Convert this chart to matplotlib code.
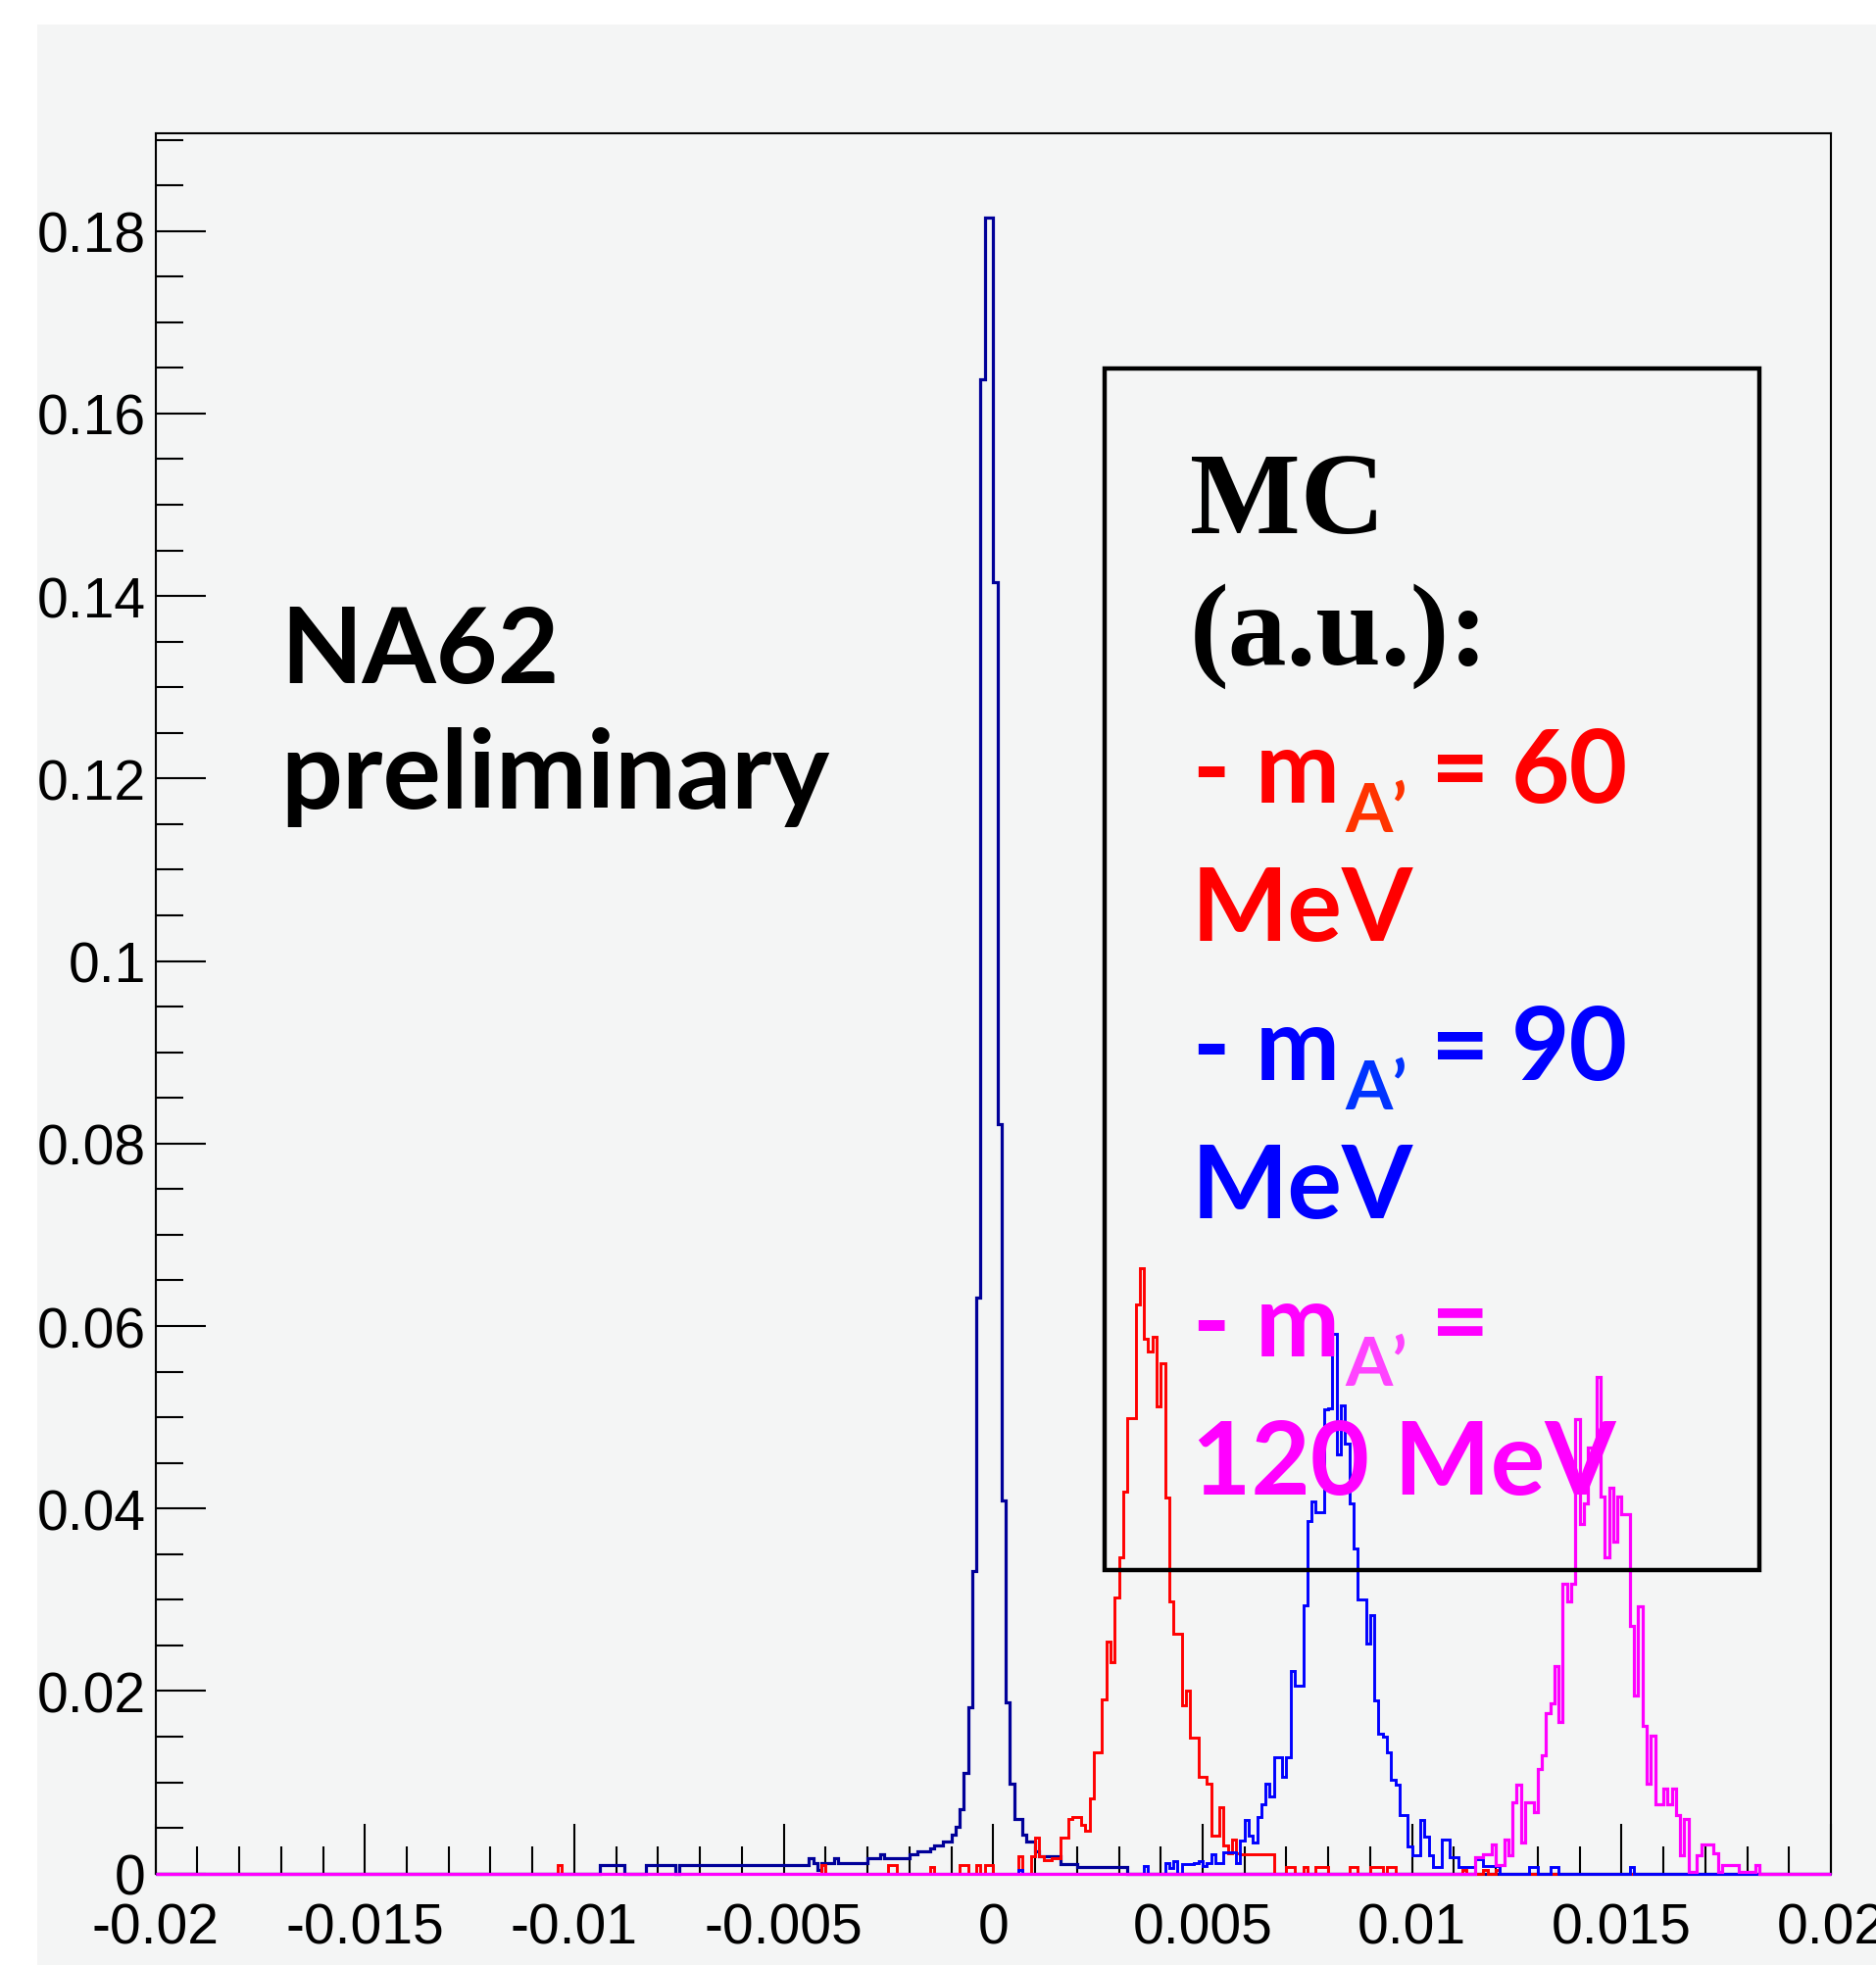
import numpy as np
import matplotlib
matplotlib.use("Agg")
import matplotlib.pyplot as plt
from matplotlib.patches import Rectangle
from matplotlib.ticker import FixedLocator, MultipleLocator

# ---- histogram data (bin width 0.0001) ----
x_min, x_max, bin_w = -0.02, 0.02, 0.0001

# central peak (navy), first bin starts at -0.0094
navy_start = -0.0094
navy_vals = [
    0.0009, 0.0009, 0.0009, 0.0009, 0.0009, 0.0009, 0, 0, 0, 0, 0,
    0.0009, 0.0009, 0.0009, 0.0009, 0.0009, 0.0009, 0.0009, 0,
    0.0009, 0.0009, 0.0009, 0.0009, 0.0009, 0.0009, 0.0009, 0.0009, 0.0009, 0.0009,
    0.0009, 0.0009, 0.0009, 0.0009, 0.0009, 0.0009, 0.0009, 0.0009, 0.0009, 0.0009,
    0.0009, 0.0009, 0.0009, 0.0009, 0.0009, 0.0009, 0.0009, 0.0009, 0.0009, 0.0009, 0.0009,
    0.0017, 0.0012, 0.0004, 0.0012, 0.0012, 0.0012, 0.0017, 0.0012, 0.0012, 0.0012,
    0.0012, 0.0012, 0.0012, 0.0012,
    0.0017, 0.0017, 0.0017, 0.0021, 0.0017, 0.0017, 0.0017, 0.0017, 0.0017, 0.0017,
    0.0021, 0.0021, 0.0024, 0.0024, 0.0024, 0.0028, 0.0031, 0.0031, 0.0035, 0.0035,
    0.0043, 0.0051, 0.0071, 0.0110, 0.0182, 0.0332, 0.0631, 0.1637, 0.1815, 0.1815,
    0.1415, 0.0821, 0.0409, 0.0188, 0.0098, 0.0060, 0.0060, 0.0043, 0.0035, 0.0035,
    0.0024, 0.0019, 0.0019, 0.0019, 0.0019, 0.0019, 0.0010, 0.0010, 0.0010, 0.0010,
    0.0007, 0.0007, 0.0007, 0.0007, 0.0007, 0.0007, 0.0007, 0.0007, 0.0007, 0.0007,
    0.0007, 0.0007,
]

# m_A' = 60 MeV (red)
red_start = 0.0006
red_vals = [
    0.0019, 0, 0, 0.0019, 0.0039, 0.0019, 0.0015, 0.0015, 0.0017, 0.0017,
    0.0039, 0.0039, 0.0060, 0.0062, 0.0062, 0.0053, 0.0047, 0.0082, 0.0133, 0.0133,
    0.0191, 0.0254, 0.0232, 0.0302, 0.0347, 0.0418, 0.0499, 0.0499, 0.0624, 0.0663,
    0.0586, 0.0572, 0.0588, 0.0512, 0.0559, 0.0412, 0.0298, 0.0263, 0.0263, 0.0184,
    0.0200, 0.0149, 0.0149, 0.0106, 0.0106, 0.0099, 0.0042, 0.0042, 0.0073, 0.0031,
    0.0022, 0.0037, 0.0022, 0.0021, 0.0021, 0.0021, 0.0021, 0.0021, 0.0021, 0.0021,
    0.0021,
]
red_iso_x = [-0.0104, -0.0041, -0.0025, -0.0024, -0.0015, -0.0008, -0.0007, -0.0004,
             -0.0002, -0.0001, 0.0070, 0.0071, 0.0074, 0.0077, 0.0078, 0.0079, 0.0085,
             0.0086, 0.0090, 0.0091, 0.0092, 0.0094, 0.0095, 0.0112, 0.0117, 0.0120]
red_iso_h = [0.0009, 0.0009, 0.0009, 0.0009, 0.0007, 0.0009, 0.0009, 0.0009,
             0.0009, 0.0009, 0.0007, 0.0007, 0.0007, 0.0007, 0.0007, 0.0007, 0.0007,
             0.0007, 0.0007, 0.0007, 0.0007, 0.0007, 0.0007, 0.0004, 0.0004, 0.0004]

# m_A' = 90 MeV (blue)
blue_start = 0.0036
blue_vals = [
    0.0008, 0, 0, 0, 0, 0.0011, 0.0006, 0.0014, 0, 0.0010,
    0.0010, 0.0010, 0.0011, 0.0014, 0.0008, 0.0011, 0.0021, 0.0011, 0.0011, 0.0023,
    0.0023, 0.0023, 0.0011, 0.0036, 0.0059, 0.0042, 0.0034, 0.0062, 0.0076, 0.0099,
    0.0085, 0.0127, 0.0127, 0.0106, 0.0127, 0.0222, 0.0206, 0.0206, 0.0294, 0.0386,
    0.0408, 0.0396, 0.0396, 0.0509, 0.0510, 0.0591, 0.0459, 0.0513, 0.0471, 0.0406,
    0.0356, 0.0300, 0.0300, 0.0252, 0.0283, 0.0190, 0.0153, 0.0150, 0.0133, 0.0103,
    0.0097, 0.0064, 0.0064, 0.0030, 0.0020, 0.0020, 0.0059, 0.0040, 0.0020, 0.0007,
    0.0007, 0.0037, 0.0037, 0.0018, 0.0018, 0.0007, 0.0007, 0.0007, 0.0007, 0.0016,
    0.0016, 0.0008, 0.0008, 0.0008, 0.0008,
]
blue_iso_x = [0.0006, 0.0128, 0.0129, 0.0133, 0.0134, 0.0152]
blue_iso_h = [0.0004, 0.0007, 0.0007, 0.0007, 0.0007, 0.0007]

# m_A' = 120 MeV (magenta)
mag_start = 0.0115
mag_vals = [
    0.0018, 0.0018, 0.0021, 0.0021, 0.0032, 0.0009, 0.0009, 0.0037, 0.0020, 0.0078,
    0.0097, 0.0034, 0.0078, 0.0078, 0.0067, 0.0115, 0.0130, 0.0176, 0.0187, 0.0227,
    0.0166, 0.0318, 0.0298, 0.0318, 0.0498, 0.0383, 0.0406, 0.0467, 0.0467, 0.0544,
    0.0413, 0.0347, 0.0423, 0.0364, 0.0413, 0.0394, 0.0394, 0.0271, 0.0195, 0.0293,
    0.0162, 0.0099, 0.0151, 0.0076, 0.0076, 0.0093, 0.0076, 0.0093, 0.0064, 0.0020,
    0.0060, 0.0002, 0.0002, 0.0020, 0.0032, 0.0032, 0.0032, 0.0022, 0.0002, 0.0009,
    0.0009, 0.0009, 0.0009, 0.0002, 0.0002, 0.0002, 0.0002, 0.0009,
]

x_ticks = [-0.02, -0.015, -0.01, -0.005, 0, 0.005, 0.01, 0.015, 0.02]
x_tick_labels = ["-0.02", "-0.015", "-0.01", "-0.005", "0", "0.005", "0.01", "0.015", "0.02"]
y_ticks = [0, 0.02, 0.04, 0.06, 0.08, 0.1, 0.12, 0.14, 0.16, 0.18]
y_tick_labels = ["0", "0.02", "0.04", "0.06", "0.08", "0.1", "0.12", "0.14", "0.16", "0.18"]

BG = "#f4f5f5"
W, H = 1914, 2006
n_bins = int(round((x_max - x_min) / bin_w))
edges = np.linspace(x_min, x_max, n_bins + 1)


def make_hist(start, vals, iso_x=(), iso_h=()):
    h = np.zeros(n_bins)
    i0 = int(round((start - x_min) / bin_w))
    h[i0:i0 + len(vals)] = vals
    for x, v in zip(iso_x, iso_h):
        h[int(round((x - x_min) / bin_w))] = v
    return h


def px(x, y):
    # pixel position (from top-left) -> figure fraction
    return x / W, 1 - y / H


fig = plt.figure(figsize=(W / 100, H / 100), dpi=100, facecolor="white")
fig.patches.append(Rectangle((38 / W, 0), 1 - 38 / W, 1 - 26 / H, transform=fig.transFigure,
                             facecolor=BG, edgecolor="none", zorder=-10))

ax = fig.add_axes([158.6 / W, 1 - 1912.7 / H, 1709.4 / W, 1775.7 / H])
ax.set_facecolor(BG)

ax.stairs(make_hist(navy_start, navy_vals), edges, color="#000099", lw=2.3, clip_on=False, zorder=2)
ax.stairs(make_hist(red_start, red_vals, red_iso_x, red_iso_h), edges, color="#ff0000", lw=2.1,
          clip_on=False, zorder=2)
ax.stairs(make_hist(blue_start, blue_vals, blue_iso_x, blue_iso_h), edges, color="#0000ff", lw=2.1,
          clip_on=False, zorder=2)
ax.stairs(make_hist(mag_start, mag_vals), edges, color="#ff00ff", lw=2.3, clip_on=False, zorder=3)

ax.set_xlim(x_min, x_max)
ax.set_ylim(0, 0.1907)

tick_font = {"family": ["Liberation Sans Narrow", "Liberation Sans", "DejaVu Sans"], "size": 41}
ax.xaxis.set_major_locator(FixedLocator(x_ticks))
ax.set_xticklabels(x_tick_labels, fontdict=tick_font)
ax.xaxis.set_minor_locator(MultipleLocator(0.001))
ax.yaxis.set_major_locator(FixedLocator(y_ticks))
ax.set_yticklabels(y_tick_labels, fontdict=tick_font)
ax.yaxis.set_minor_locator(MultipleLocator(0.005))

ax.tick_params(which="both", direction="in", top=False, right=False, width=1.5, color="black")
ax.tick_params(which="major", length=37)
ax.tick_params(which="minor", length=20)
ax.tick_params(axis="x", which="major", pad=21)
ax.tick_params(axis="y", which="major", pad=7)
for s in ax.spines.values():
    s.set_linewidth(1.5)
    s.set_zorder(1)

# legend-like frame
ax.add_patch(Rectangle((0.5665, 0.1744), 0.9573 - 0.5665, 0.8648 - 0.1744, transform=ax.transAxes,
                       fill=False, edgecolor="black", lw=3.2, zorder=6, clip_on=False))

sans = ["Lato", "DejaVu Sans"]
serif = ["Liberation Serif", "DejaVu Serif"]

fig.text(*px(286, 697), "NA62", family=sans, weight="bold", size=78, va="baseline")
fig.text(*px(286, 825), "preliminary", family=sans, weight="bold", size=80, va="baseline")

fig.text(*px(1214, 544), "MC", family=serif, weight="bold", size=86, va="baseline")
fig.text(*px(1214, 678), "(a.u.):", family=serif, weight="bold", size=86, va="baseline")

lines = [
    (819, "60", "#ff0000", "#ff3300"),
    (1102, "90", "#0000ff", "#0033ff"),
    (1384, None, "#ff00ff", "#ff44ff"),
]
for base, num, col, subcol in lines:
    kw = dict(family=sans, weight="bold", size=74, va="baseline", color=col)
    fig.text(*px(1216, base), "-", **kw)
    fig.text(*px(1281, base), "m", **kw)
    fig.text(*px(1372, base + 30), "A\u2019", family=sans, weight="bold", size=50,
             va="baseline", color=subcol)
    fig.text(*px(1460, base), "=", **kw)
    if num is not None:
        fig.text(*px(1542, base), num, **kw)

fig.text(*px(1216, 960), "MeV", family=sans, weight="bold", size=75, va="baseline", color="#ff0000")
fig.text(*px(1216, 1243), "MeV", family=sans, weight="bold", size=75, va="baseline", color="#0000ff")
fig.text(*px(1216, 1525), "120 MeV", family=sans, weight="bold", size=75, va="baseline", color="#ff00ff")

fig.savefig("out.png", dpi=100, facecolor="white")
